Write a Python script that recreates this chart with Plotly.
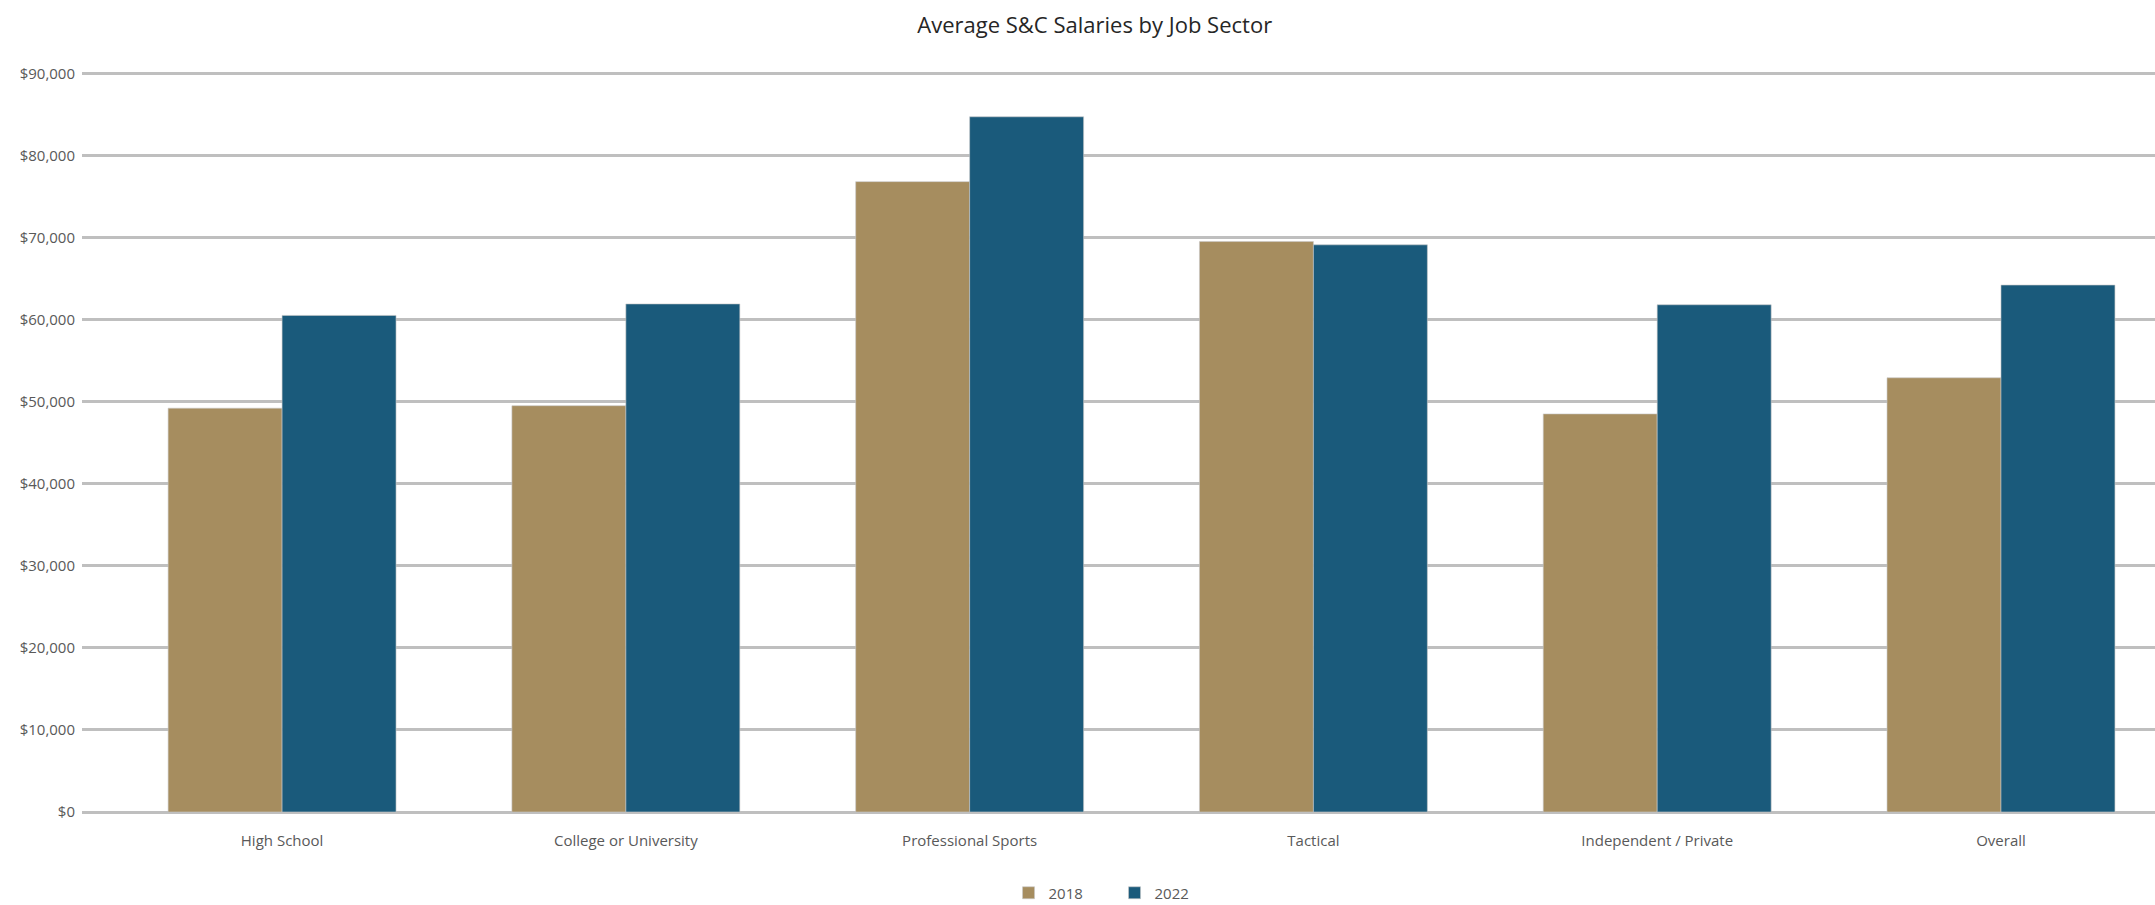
import plotly.graph_objects as go

categories = ["High School", "College or University", "Professional Sports", "Tactical",
              "Independent / Private", "Overall"]
values_2018 = [49200, 49500, 76800, 69500, 48500, 52900]
values_2022 = [60500, 61900, 84700, 69100, 61800, 64200]
tick_vals = [0, 10000, 20000, 30000, 40000, 50000, 60000, 70000, 80000, 90000]
tick_text = ["$0", "$10,000", "$20,000", "$30,000", "$40,000", "$50,000",
             "$60,000", "$70,000", "$80,000", "$90,000"]

GOLD = "#A68D5F"
BLUE = "#1A5A7B"
FONT = "Open Sans, Liberation Sans, sans-serif"

fig = go.Figure()
fig.add_trace(go.Bar(name="2018", x=categories, y=values_2018, marker_color=GOLD,
                     marker_line=dict(color="rgba(200,200,200,0.6)", width=1)))
fig.add_trace(go.Bar(name="2022", x=categories, y=values_2022, marker_color=BLUE,
                     marker_line=dict(color="rgba(200,200,200,0.6)", width=1)))

fig.update_layout(
    width=2155, height=905,
    margin=dict(l=82, r=0, t=70, b=93, autoexpand=False),
    paper_bgcolor="white", plot_bgcolor="white",
    barmode="group", bargap=0.337, bargroupgap=0,
    title=dict(text="Average S&C Salaries by Job Sector", x=0.508, xanchor="center",
               y=1 - 25 / 905, yanchor="middle",
               font=dict(family=FONT, size=22, color="#262626")),
    font=dict(family=FONT, size=15, color="#595959"),
    legend=dict(orientation="h", xref="container", yref="container",
                x=0.468, xanchor="left", y=1 - 893 / 905, yanchor="middle",
                font=dict(size=15, color="#595959"), entrywidth=61,
                entrywidthmode="pixels", tracegroupgap=0),
    showlegend=True,
)
fig.update_xaxes(range=[-0.582, 5.448], showgrid=False, showline=False, zeroline=False,
                 ticks="", ticklabelstandoff=18, tickfont=dict(size=15, color="#595959"))
fig.update_yaxes(range=[0, 90400], tickvals=tick_vals, ticktext=tick_text,
                 showgrid=True, gridcolor="#BFBFBF", gridwidth=3,
                 zeroline=True, zerolinecolor="#BFBFBF", zerolinewidth=3,
                 showline=False, ticks="", ticklabelstandoff=6,
                 tickfont=dict(size=15, color="#595959"))

fig.write_html("out.html")
